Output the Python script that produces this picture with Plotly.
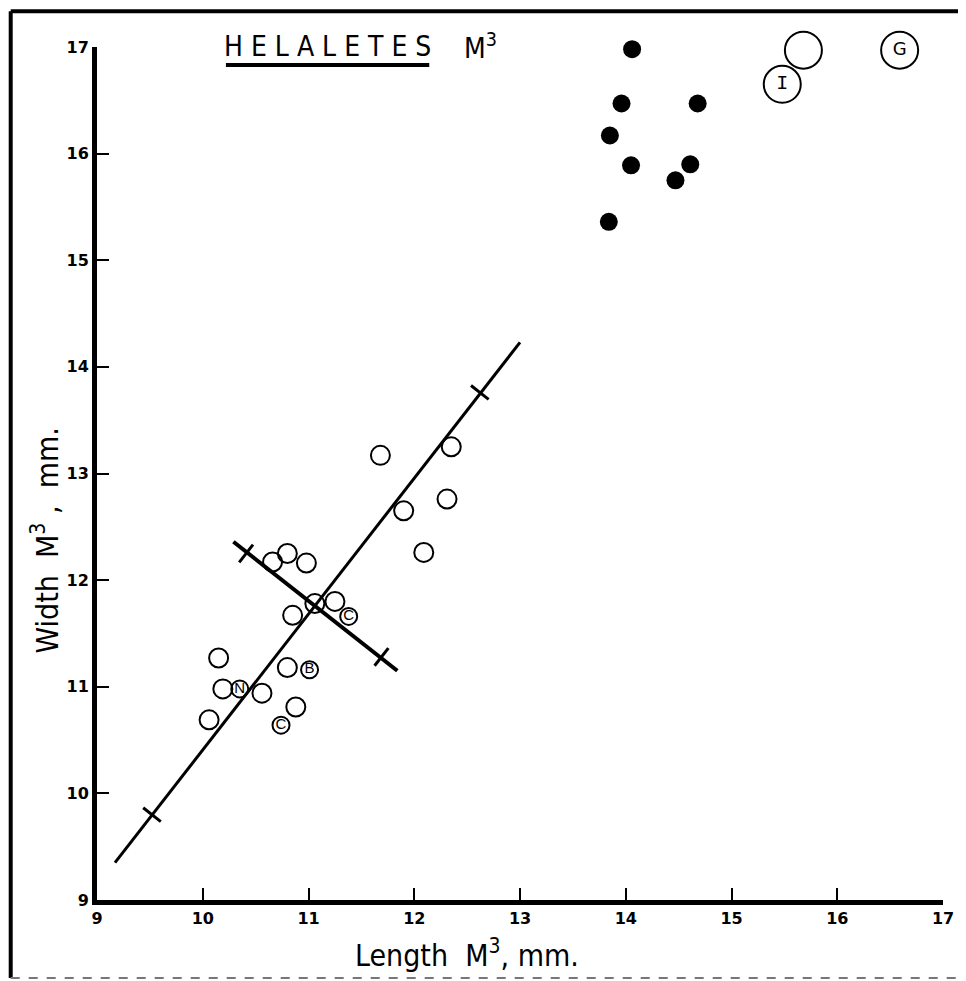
import numpy as np
import plotly.graph_objects as go

# ---- data ----
open_x = [11.68, 12.35, 11.90, 12.31, 12.09, 10.66, 10.80, 10.98, 11.06, 11.25,
          10.85, 10.15, 10.80, 10.19, 10.56, 10.88, 10.06]
open_y = [13.17, 13.25, 12.65, 12.76, 12.26, 12.17, 12.25, 12.16, 11.78, 11.80,
          11.67, 11.27, 11.18, 10.98, 10.94, 10.81, 10.69]

labeled_x = [11.38, 11.01, 10.35, 10.74]
labeled_y = [11.66, 11.16, 10.98, 10.64]
labeled_txt = ["C", "B", "N", "C"]

filled_x = [14.06, 13.96, 14.68, 13.85, 14.05, 14.61, 14.47, 13.84]
filled_y = [16.98, 16.47, 16.47, 16.17, 15.89, 15.90, 15.75, 15.36]

big_x = [15.68, 15.48, 16.59]
big_y = [16.97, 16.65, 16.97]
big_txt = ["", "I", "G"]

major_line_x = [9.17, 13.00]
major_line_y = [9.35, 14.23]
major_tick_x = [9.52, 12.62]
major_tick_y = [9.80, 13.76]

minor_line_x = [10.29, 11.84]
minor_line_y = [12.36, 11.15]
minor_tick_x = [10.41, 11.69]
minor_tick_y = [12.25, 11.28]

axis_ticks = [9, 10, 11, 12, 13, 14, 15, 16, 17]
tick_text = ["9", "10", "11", "12", "13", "14", "15", "16", "17"]

# ---- figure ----
FONT = "DejaVu Sans Condensed, Liberation Sans Narrow, Roboto Condensed, Liberation Sans, sans-serif"
BLACK = "black"

major_slope = (major_line_y[1] - major_line_y[0]) / (major_line_x[1] - major_line_x[0])
minor_slope = (minor_line_y[1] - minor_line_y[0]) / (minor_line_x[1] - minor_line_x[0])
major_ang = np.degrees(np.arctan(major_slope))   # ~ +52 deg
minor_ang = np.degrees(np.arctan(minor_slope))   # ~ -38 deg

fig = go.Figure()

fig.add_trace(go.Scatter(x=major_line_x, y=major_line_y, mode="lines",
                         line=dict(color=BLACK, width=3), hoverinfo="skip"))
fig.add_trace(go.Scatter(x=minor_line_x, y=minor_line_y, mode="lines",
                         line=dict(color=BLACK, width=4), hoverinfo="skip"))
# cross ticks: each perpendicular to its own line (marker angle is clockwise)
fig.add_trace(go.Scatter(x=major_tick_x, y=major_tick_y, mode="markers",
                         marker=dict(symbol="line-ew", size=16, angle=90 - major_ang,
                                     line=dict(color=BLACK, width=3)), hoverinfo="skip"))
fig.add_trace(go.Scatter(x=minor_tick_x, y=minor_tick_y, mode="markers",
                         marker=dict(symbol="line-ew", size=16, angle=-90 - minor_ang,
                                     line=dict(color=BLACK, width=3)), hoverinfo="skip"))

fig.add_trace(go.Scatter(x=open_x, y=open_y, mode="markers", cliponaxis=False,
                         marker=dict(symbol="circle-open", size=19, color=BLACK,
                                     line=dict(width=2, color=BLACK))))
fig.add_trace(go.Scatter(x=labeled_x, y=labeled_y, mode="markers", cliponaxis=False,
                         marker=dict(symbol="circle-open", size=17, color=BLACK,
                                     line=dict(width=2, color=BLACK))))
fig.add_trace(go.Scatter(x=labeled_x, y=labeled_y, mode="text", cliponaxis=False,
                         text=labeled_txt, textposition="middle center",
                         textfont=dict(family="Liberation Sans", size=15, color=BLACK)))
fig.add_trace(go.Scatter(x=filled_x, y=filled_y, mode="markers", cliponaxis=False,
                         marker=dict(symbol="circle", size=18, color=BLACK)))
# large circles, then their letters
fig.add_trace(go.Scatter(x=big_x, y=big_y, mode="markers", cliponaxis=False,
                         marker=dict(symbol="circle-open", size=37, color=BLACK,
                                     line=dict(width=2, color=BLACK))))
fig.add_trace(go.Scatter(x=big_x, y=big_y, mode="text", cliponaxis=False,
                         text=big_txt, textposition="middle center",
                         textfont=dict(family=["Liberation Mono", "Liberation Mono", "DejaVu Sans"],
                                       size=[20, 20, 18], color=BLACK)))

axis_common = dict(range=[9, 17], tickvals=axis_ticks, ticktext=tick_text,
                   ticks="inside", ticklen=12, tickwidth=2, tickcolor=BLACK,
                   showline=True, linewidth=5, linecolor=BLACK,
                   showgrid=False, zeroline=False,
                   tickfont=dict(family="DejaVu Sans", size=16, color=BLACK, weight="bold"))

# the page adds an 8px body margin, so the figure is 8px smaller than the window
fig.update_layout(
    width=958, height=973,
    margin=dict(l=89, r=16, t=39, b=81),
    paper_bgcolor="white", plot_bgcolor="white",
    showlegend=False,
    xaxis=axis_common,
    yaxis=axis_common,
    font=dict(family=FONT, color=BLACK),
)

annotations = [
    dict(text="H E L A L E T E S", x=0.2726, y=1.001, xref="paper", yref="paper",
         xanchor="center", yanchor="middle", showarrow=False,
         font=dict(family=FONT, size=28, color=BLACK)),
    dict(text="M<sup>3</sup>", x=0.4314, y=1.001, xref="paper", yref="paper",
         xanchor="left", yanchor="middle", showarrow=False,
         font=dict(family=FONT, size=28, color=BLACK)),
    dict(text="Length  M<sup>3</sup>, mm.", x=0.437, y=-0.063, xref="paper", yref="paper",
         xanchor="center", yanchor="middle", showarrow=False,
         font=dict(family=FONT, size=30, color=BLACK)),
    dict(text="Width  M<sup>3</sup> ,  mm.", x=-0.061, y=0.422, xref="paper", yref="paper",
         xanchor="center", yanchor="middle", showarrow=False, textangle=-90,
         font=dict(family=FONT, size=30, color=BLACK)),
]
fig.update_layout(annotations=annotations)

shapes = [
    # outer frame
    dict(type="line", xref="paper", yref="paper", x0=-0.102, x1=-0.102, y0=1.042, y1=-0.0914,
         line=dict(color=BLACK, width=4)),
    dict(type="line", xref="paper", yref="paper", x0=-0.102, x1=1.02, y0=1.042, y1=1.042,
         line=dict(color=BLACK, width=4)),
    dict(type="line", xref="paper", yref="paper", x0=-0.102, x1=1.02, y0=-0.0914, y1=-0.0914,
         line=dict(color="#777777", width=2, dash="dash")),
    # title underline
    dict(type="line", xref="paper", yref="paper", x0=0.1524, x1=0.3927, y0=0.9789, y1=0.9789,
         line=dict(color=BLACK, width=4)),
]
fig.update_layout(shapes=shapes)

fig.write_html("out.html")
